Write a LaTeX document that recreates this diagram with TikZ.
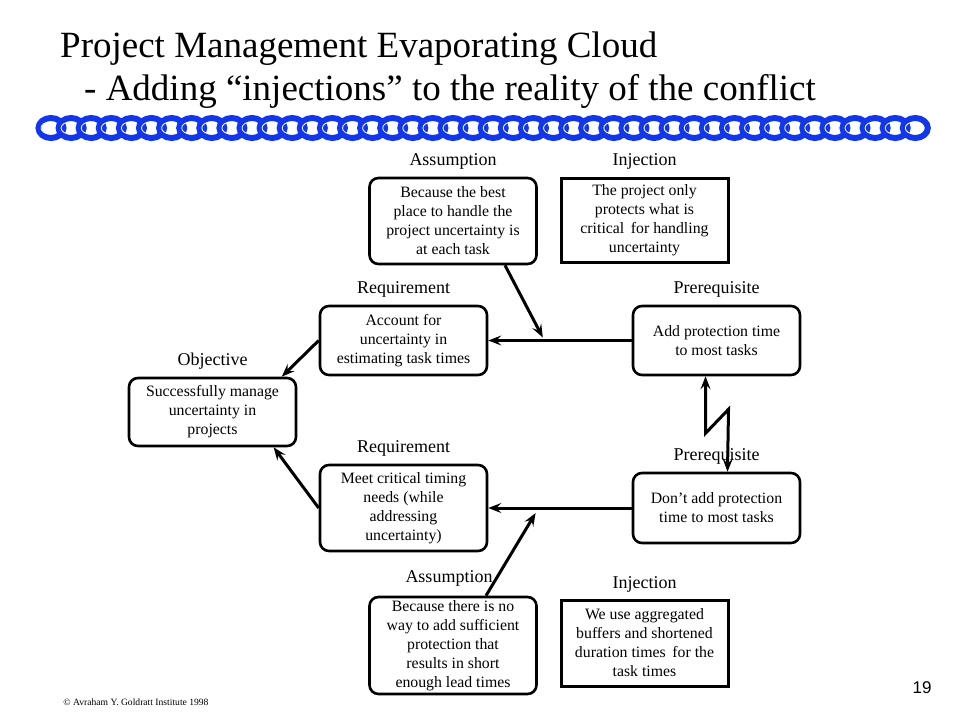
\documentclass[tikz,border=0pt]{standalone}
\usepackage{fontspec}
\setmainfont{Liberation Serif}
\setsansfont{Liberation Sans}
\usetikzlibrary{arrows.meta, positioning, calc}
\definecolor{chainblue}{RGB}{18,55,235}
\tikzset{
    cloud/.style={draw, line width=2.6pt, rounded corners=9pt, minimum width=167pt, align=center, font=\fontsize{15.8}{19}\selectfont, inner sep=0pt},
    inject/.style={cloud, rounded corners=0pt, line width=3pt},
    tag/.style={font=\fontsize{18}{20}\selectfont, inner sep=0pt},
    conn/.style={line width=3pt, -{Stealth[length=13pt, width=10pt, inset=5pt]}}
}

\begin{document}
\begin{tikzpicture}[x=1pt, y=-1pt]
\useasboundingbox (0,0) rectangle (960,720);
\fill[white] (0,0) rectangle (960,720);

% title
\node[anchor=base west, inner sep=0pt, font=\fontsize{37}{40}\selectfont] (title) at (60,57) {Project Management Evaporating Cloud};
\node[anchor=base west, inner sep=0pt, font=\fontsize{37}{40}\selectfont] (subtitle) at (84,100) {- Adding “injections” to the reality of the conflict};

% chain
\foreach \i in {0,...,43} {
    \draw[chainblue, line width=6pt] ({51+\i*20.1},128) ellipse [x radius=12.5pt, y radius=10pt];
    \draw[white, line width=0.8pt] ({50+\i*20.1},128) ellipse [x radius=9pt, y radius=6pt];
}

% boxes
\node[cloud, minimum height=86pt] (assumpA) at (453,221) {Because the best\\place to handle the\\project uncertainty is\\at each task};
\node[inject, minimum height=84pt] (injectA) at (644.5,220) {The project only\\protects what is\\critical\, for handling\\uncertainty};
\node[cloud, minimum height=69pt] (reqA) at (403.5,340.5) {Account for\\uncertainty in\\estimating task times};
\node[cloud, minimum height=69pt] (prereqA) at (716.5,340.5) {Add protection time\\to most tasks};
\node[cloud, minimum height=68pt] (obj) at (212.5,412) {Successfully manage\\uncertainty in\\projects};
\node[cloud, minimum height=86pt] (reqB) at (403.5,508) {Meet critical timing\\needs (while\\addressing\\uncertainty)};
\node[cloud, minimum height=70pt] (prereqB) at (716.5,508) {Don’t add protection\\time to most tasks};
\node[cloud, minimum height=97pt] (assumpB) at (453,645.5) {Because there is no\\way to add sufficient\\protection that\\results in short\\enough lead times};
\node[inject, minimum height=86pt] (injectB) at (644.5,643) {We use aggregated\\buffers and shortened\\duration times\, for the\\task times};

% labels
\node[tag, above=7pt of assumpA] (tagA1) {Assumption};
\node[tag, above=7pt of injectA] (tagA2) {Injection};
\node[tag, above=7pt of reqA] (tagA3) {Requirement};
\node[tag, above=7pt of prereqA] (tagA4) {Prerequisite};
\node[tag, above=7pt of obj] (tagO) {Objective};
\node[tag, above=7pt of reqB] (tagB3) {Requirement};
\node[tag, above=7pt of prereqB] (tagB4) {Prerequisite};
\node[tag, above=9pt of assumpB, xshift=-4pt] (tagB1) {Assumption};
\node[tag, above=6pt of injectB] (tagB2) {Injection};

% connectors
\coordinate (hitA) at ($(prereqA.west)!0.62!(reqA.east)+(0,-3)$);
\coordinate (hitB) at ($(prereqB.west)!0.67!(reqB.east)+(0,5)$);
\draw[conn] (prereqA.west) -- (reqA.east);
\draw[conn] (prereqB.west) -- (reqB.east);
\draw[conn] (reqA.west) -- (obj.27);
\draw[conn] (reqB.west) -- (obj.-30);
\draw[conn] ($(assumpA.south)+(52,0)$) -- (hitA);
\draw[conn] ($(assumpB.north)+(33,0)$) -- (hitB);
\draw[conn, {Stealth[length=13pt, width=10pt, inset=5pt]}-{Stealth[length=13pt, width=10pt, inset=5pt]}, line join=miter]
    ($(prereqA.south)+(-11,0)$) -- ++(0,57) -- ++(23,-24) -- ($(prereqB.north)+(11,0)$);

% footer
\node[inner sep=0pt, font=\fontsize{9.6}{10}\selectfont] (copy) at (136,702) {© Avraham Y. Goldratt Institute 1998};
\node[inner sep=0pt, font=\sffamily\fontsize{17}{20}\selectfont] (page) at (922,688) {19};
\end{tikzpicture}
\end{document}
